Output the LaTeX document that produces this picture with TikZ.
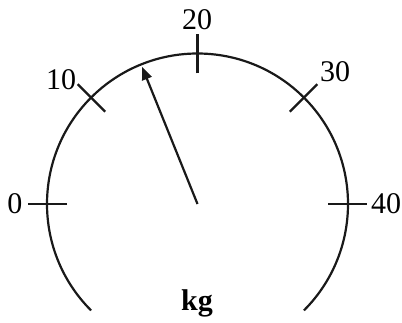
\documentclass[tikz,border=0pt]{standalone}
\usepackage{fontspec}
\setmainfont{Liberation Serif}
\usetikzlibrary{arrows.meta,calc}
\begin{document}
\begin{tikzpicture}[x=1pt,y=1pt,
  dial/.style={line width=2.2pt, black!90},
  lbl/.style={inner sep=0pt, font=\fontsize{30}{31}\selectfont},
  unitlbl/.style={inner sep=0pt, anchor=base, font=\fontsize{30}{31}\selectfont\bfseries}]
\useasboundingbox (0,0) rectangle (402,322);
\coordinate (c) at (197.5,118);
\draw[dial] (c) ++(225:150.5) arc[start angle=225, end angle=-45, radius=150.5];
\foreach \a in {180,135,90,45,0}{
  \draw[dial] ($(c)+(\a:130.5)$) -- ($(c)+(\a:169.5)$);
}
\coordinate (tip) at ($(c)+(112:148)$);
\draw[dial, -{Triangle[length=13pt,width=10pt]}] (c) -- (tip);
\node[lbl] (l0) at (15,118) {0};
\node[lbl] (l10) at (61,242) {10};
\node[lbl] (l20) at (197,302) {20};
\node[lbl] (l30) at (335,250) {30};
\node[lbl] (l40) at (386,118) {40};
\node[unitlbl] (kg) at (197,12) {kg};
\end{tikzpicture}
\end{document}
